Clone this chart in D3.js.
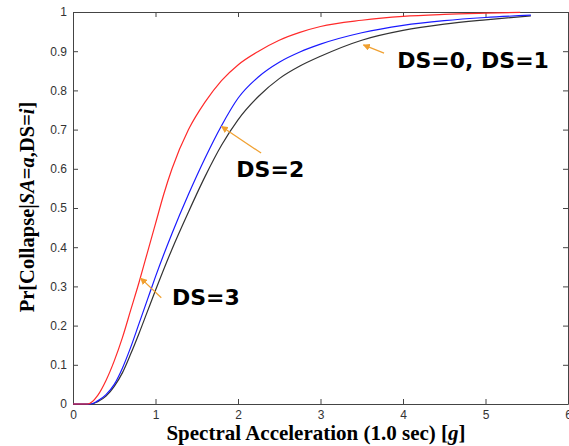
<!DOCTYPE html>
<html>
  <head>
    <meta charset="UTF-8" />
    <style>
      body { margin: 0; background: #fff; }
      .tick text { font-family: 'Liberation Sans', Arial, sans-serif; font-size: 12px; fill: #333; }
      .lbl { font-family: 'Liberation Serif', 'Times New Roman', serif; font-weight: bold; fill: #000; }
      .ann { font-family: 'DejaVu Sans', Verdana, sans-serif; font-weight: bold; font-size: 22px; fill: #000; }
    </style>
  </head>
  <body>
    <svg></svg>
    <script src="https://d3js.org/d3.v7.min.js"></script>
    <script>
      let width = 569,
        height = 446

      // spectral acceleration (g) and collapse probability
      let xDS01 = [0, 0.22, 0.3, 0.4, 0.5, 0.6, 0.7, 0.8, 0.9, 1.0, 1.2, 1.4, 1.6, 1.8, 2.0, 2.25, 2.5, 2.75, 3.0, 3.5, 4.0, 4.5, 5.0, 5.55]
      let yDS01 = [0, 0, 0.006, 0.02, 0.045, 0.08, 0.128, 0.18, 0.235, 0.29, 0.395, 0.49, 0.58, 0.66, 0.725, 0.785, 0.83, 0.862, 0.887, 0.928, 0.953, 0.969, 0.98, 0.99]

      let xDS2 = [0, 0.22, 0.3, 0.4, 0.5, 0.6, 0.7, 0.8, 0.9, 1.0, 1.2, 1.4, 1.6, 1.8, 2.0, 2.25, 2.5, 2.75, 3.0, 3.5, 4.0, 4.5, 5.0, 5.55]
      let yDS2 = [0, 0, 0.008, 0.024, 0.05, 0.092, 0.145, 0.205, 0.265, 0.325, 0.435, 0.535, 0.627, 0.71, 0.78, 0.835, 0.872, 0.898, 0.918, 0.947, 0.966, 0.978, 0.986, 0.992]

      let xDS3 = [0, 0.18, 0.3, 0.4, 0.5, 0.6, 0.7, 0.8, 0.9, 1.0, 1.1, 1.2, 1.4, 1.6, 1.8, 2.0, 2.25, 2.5, 2.75, 3.0, 3.5, 4.0, 4.5, 5.0, 5.42]
      let yDS3 = [0, 0, 0.022, 0.06, 0.11, 0.17, 0.24, 0.31, 0.385, 0.46, 0.535, 0.6, 0.7, 0.77, 0.825, 0.865, 0.9, 0.928, 0.948, 0.963, 0.979, 0.989, 0.994, 0.997, 0.999]

      let xTicks = [0, 1, 2, 3, 4, 5, 6]
      let yTicks = [0, 0.1, 0.2, 0.3, 0.4, 0.5, 0.6, 0.7, 0.8, 0.9, 1]

      let series = [
        { name: 'DS=0, DS=1', xs: xDS01, ys: yDS01, color: '#333333' },
        { name: 'DS=2', xs: xDS2, ys: yDS2, color: '#1a1aff' },
        { name: 'DS=3', xs: xDS3, ys: yDS3, color: '#ff2a2a' },
      ]

      // annotations: label position and arrow tail/head, in data units
      let notes = [
        { text: 'DS=0, DS=1', tx: 3.93, ty: 0.857, from: [3.77, 0.895], to: [3.52, 0.916] },
        { text: 'DS=2', tx: 1.98, ty: 0.579, from: [2.28, 0.64], to: [1.8, 0.708] },
        { text: 'DS=3', tx: 1.2, ty: 0.252, from: [1.07, 0.271], to: [0.82, 0.321] },
      ]

      let margin = { left: 73, right: 1, top: 12, bottom: 42 }

      let svg = d3.select('svg').attr('width', width).attr('height', height)

      let x = d3.scaleLinear().domain([0, 6]).range([margin.left, width - margin.right])
      let y = d3.scaleLinear().domain([0, 1]).range([height - margin.bottom, margin.top])

      let axisColor = '#444'

      // bottom + left axes with labels, top + right with ticks only (inward)
      let gx = svg.append('g')
        .attr('transform', 'translate(0,' + y(0) + ')')
        .call(d3.axisBottom(x).tickValues(xTicks).tickFormat(d3.format('d')).tickSizeInner(-5).tickSizeOuter(0).tickPadding(6))
      let gy = svg.append('g')
        .attr('transform', 'translate(' + x(0) + ',0)')
        .call(d3.axisLeft(y).tickValues(yTicks).tickFormat((d) => (d == 0 || d == 1 ? d : d3.format('.1f')(d))).tickSizeInner(-5).tickSizeOuter(0).tickPadding(6))
      let gt = svg.append('g')
        .attr('transform', 'translate(0,' + y(1) + ')')
        .call(d3.axisTop(x).tickValues(xTicks).tickFormat('').tickSizeInner(-5).tickSizeOuter(0))
      let gr = svg.append('g')
        .attr('transform', 'translate(' + x(6) + ',0)')
        .call(d3.axisRight(y).tickValues(yTicks).tickFormat('').tickSizeInner(-5).tickSizeOuter(0))

      ;[gx, gy, gt, gr].forEach((g) => {
        g.select('.domain').attr('stroke', axisColor)
        g.selectAll('.tick line').attr('stroke', axisColor)
      })

      let line = d3.line()
        .x((d) => x(d[0]))
        .y((d) => y(d[1]))
        .curve(d3.curveMonotoneX)

      svg.append('g')
        .selectAll('path')
        .data(series)
        .enter()
        .append('path')
        .attr('fill', 'none')
        .attr('stroke', (d) => d.color)
        .attr('stroke-width', 1.2)
        .attr('d', (d) => line(d.xs.map((v, i) => [v, d.ys[i]])))

      // arrows
      svg.append('defs')
        .append('marker')
        .attr('id', 'head')
        .attr('viewBox', '0 0 10 10')
        .attr('refX', 9)
        .attr('refY', 5)
        .attr('markerWidth', 7)
        .attr('markerHeight', 7)
        .attr('markerUnits', 'userSpaceOnUse')
        .attr('orient', 'auto')
        .append('path')
        .attr('d', 'M0,0L10,5L0,10z')
        .attr('fill', '#f0a030')

      svg.append('g')
        .selectAll('line')
        .data(notes)
        .enter()
        .append('line')
        .attr('x1', (d) => x(d.from[0]))
        .attr('y1', (d) => y(d.from[1]))
        .attr('x2', (d) => x(d.to[0]))
        .attr('y2', (d) => y(d.to[1]))
        .attr('stroke', '#f0a030')
        .attr('stroke-width', 1.2)
        .attr('marker-end', 'url(#head)')

      svg.append('g')
        .selectAll('text')
        .data(notes)
        .enter()
        .append('text')
        .attr('class', 'ann')
        .attr('x', (d) => x(d.tx))
        .attr('y', (d) => y(d.ty))
        .text((d) => d.text)

      // axis titles
      let xl = svg.append('text')
        .attr('class', 'lbl')
        .attr('x', 316)
        .attr('y', 440)
        .attr('text-anchor', 'middle')
        .style('font-size', '21px')
      xl.append('tspan').text('Spectral Acceleration (1.0 sec) [')
      xl.append('tspan').style('font-style', 'italic').text('g')
      xl.append('tspan').text(']')

      let yl = svg.append('text')
        .attr('class', 'lbl')
        .attr('transform', 'translate(34,207) rotate(-90)')
        .attr('text-anchor', 'middle')
        .style('font-size', '20.5px')
      yl.append('tspan').text('Pr[Collapse|')
      yl.append('tspan').style('font-style', 'italic').text('SA')
      yl.append('tspan').text('=')
      yl.append('tspan').style('font-style', 'italic').text('a')
      yl.append('tspan').text(',DS=')
      yl.append('tspan').style('font-style', 'italic').text('i')
      yl.append('tspan').text(']')
    </script>
  </body>
</html>
